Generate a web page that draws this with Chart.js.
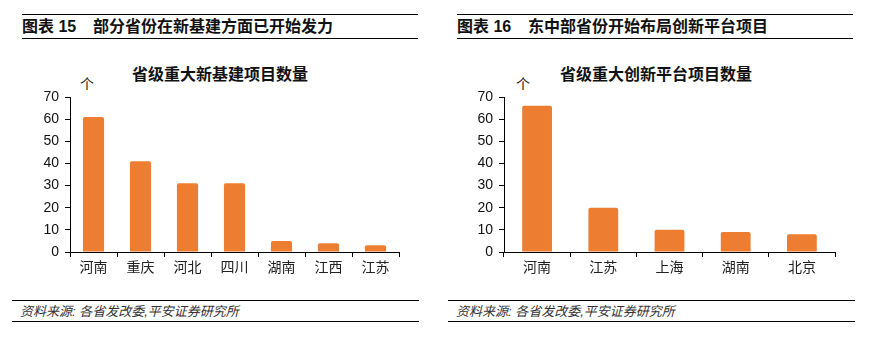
<!DOCTYPE html>
<html>
<head>
<meta charset="utf-8">
<script src="https://cdn.jsdelivr.net/npm/chart.js@4/dist/chart.umd.min.js"></script>
<style>
  body { margin: 0; background: #fff; width: 872px; height: 337px; position: relative; overflow: hidden; }
  .hd, .ft { position: absolute; border-top: 1.5px solid #000; border-bottom: 1.5px solid #000; }
  .hd { top: 14px; width: 396px; height: 23px; font: bold 16px "Liberation Sans", "Noto Sans CJK SC", sans-serif; line-height: 24px; color: #111; }
  .hd .no { display: inline-block; width: 71px; }
  .ft { top: 300px; width: 399px; height: 20px; padding-left: 8px; font: italic 13px "Liberation Sans", "Noto Sans CJK SC", sans-serif; line-height: 21px; color: #333; }
  .unit { position: absolute; top: 73px; font: 14px "Noto Sans CJK SC", sans-serif; color: #222; }
  .ttl { position: absolute; top: 61px; width: 400px; text-align: center; font: bold 16px "Noto Sans CJK SC", sans-serif; color: #111; }
  canvas { position: absolute; top: 60px; }
</style>
</head>
<body>
<div class="hd" style="left:22px"><span class="no">图表 15</span>部分省份在新基建方面已开始发力</div>
<div class="hd" style="left:457px"><span class="no">图表 16</span>东中部省份开始布局创新平台项目</div>

<div class="ttl" style="left:20px">省级重大新基建项目数量</div>
<div class="ttl" style="left:456px">省级重大创新平台项目数量</div>
<div class="unit" style="left:80px">个</div>
<div class="unit" style="left:516px">个</div>

<canvas id="infraChart" width="400" height="230" style="left:20px"></canvas>
<canvas id="platformChart" width="400" height="230" style="left:456px"></canvas>

<div class="ft" style="left:12px">资料来源: 各省发改委,平安证券研究所</div>
<div class="ft" style="left:448px">资料来源: 各省发改委,平安证券研究所</div>

<script>
const infraProvinces = ["河南", "重庆", "河北", "四川", "湖南", "江西", "江苏"];
const infraCounts = [61, 41, 31, 31, 5, 4, 3];

const platformProvinces = ["河南", "江苏", "上海", "湖南", "北京"];
const platformCounts = [66, 20, 10, 9, 8];

const yMax = 70;
const yStep = 10;

const ORANGE = "#ED7D31";
const TICK_FONT = { family: "'Liberation Sans', 'Noto Sans CJK SC', sans-serif", size: 14 };

function drawBars(id, labels, values, axisWidth) {
  const ctx = document.getElementById(id).getContext("2d");
  return new Chart(ctx, {
    type: "bar",
    data: {
      labels: labels,
      datasets: [{
        data: values,
        backgroundColor: ORANGE,
        borderRadius: 2,
        borderSkipped: "bottom",
        barPercentage: 0.45,
        categoryPercentage: 1
      }]
    },
    options: {
      responsive: false,
      animation: false,
      layout: { padding: { top: 37, right: 21, bottom: 8, left: 0 } },
      plugins: { legend: { display: false }, tooltip: { enabled: false }, title: { display: false } },
      scales: {
        x: {
          grid: { offset: true, drawOnChartArea: false, tickLength: 5, color: "#000" },
          border: { color: "#000", width: 1 },
          ticks: { color: "#222", font: TICK_FONT, padding: 3 },
          afterFit: s => { s.height = 30; }
        },
        y: {
          min: 0,
          max: yMax,
          ticks: { stepSize: yStep, color: "#111", font: TICK_FONT, padding: 6 },
          grid: { drawOnChartArea: false, tickLength: 5, color: "#000" },
          border: { color: "#000", width: 1 },
          afterFit: s => { s.width = axisWidth; }
        }
      }
    }
  });
}

drawBars("infraChart", infraProvinces, infraCounts, 50);
drawBars("platformChart", platformProvinces, platformCounts, 48);
</script>
</body>
</html>
